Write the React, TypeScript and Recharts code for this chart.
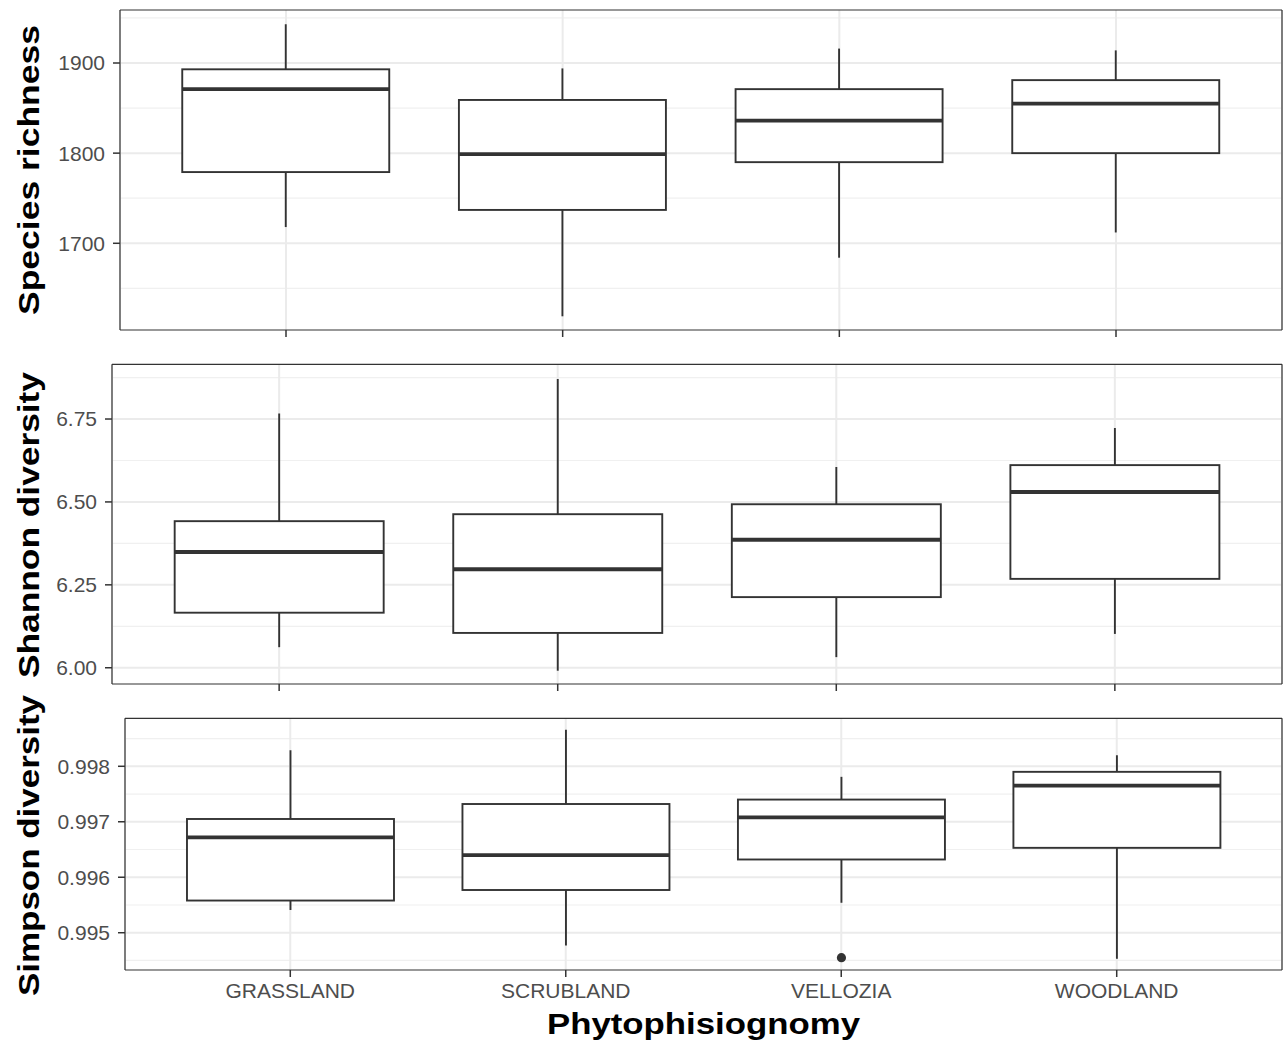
import React from "react";
import { ComposedChart, Bar, XAxis, YAxis, CartesianGrid } from "recharts";

// ---------- data ----------
const categories = ["GRASSLAND", "SCRUBLAND", "VELLOZIA", "WOODLAND"];

// Species richness
const richMin = [1718, 1619, 1684, 1712];
const richQ1 = [1779, 1737, 1790, 1800];
const richMedian = [1871, 1799, 1836, 1855];
const richQ3 = [1893, 1859, 1871, 1881];
const richMax = [1943, 1894, 1916, 1914];
const richTicks = [1700, 1800, 1900];
const richMinorTicks = [1650, 1750, 1850, 1950];
const richDomain: [number, number] = [1603.8, 1958.8];

// Shannon diversity
const shMin = [6.062, 5.991, 6.032, 6.102];
const shQ1 = [6.166, 6.105, 6.213, 6.268];
const shMedian = [6.349, 6.297, 6.386, 6.53];
const shQ3 = [6.442, 6.463, 6.493, 6.611];
const shMax = [6.767, 6.871, 6.605, 6.723];
const shTicks = [6.0, 6.25, 6.5, 6.75];
const shMinorTicks = [6.125, 6.375, 6.625, 6.875];
const shDomain: [number, number] = [5.951, 6.915];

// Simpson diversity
const siMin = [0.99541, 0.99477, 0.99554, 0.99453];
const siQ1 = [0.99558, 0.99577, 0.99632, 0.99653];
const siMedian = [0.99672, 0.9964, 0.99708, 0.99765];
const siQ3 = [0.99705, 0.99732, 0.9974, 0.9979];
const siMax = [0.99829, 0.99866, 0.99781, 0.9982];
const siOutliers: number[][] = [[], [], [0.99455], []];
const siTicks = [0.995, 0.996, 0.997, 0.998];
const siMinorTicks = [0.9945, 0.9955, 0.9965, 0.9975, 0.9985];
const siDomain: [number, number] = [0.994328, 0.998865];

// ---------- helpers ----------
const FONT = '"Liberation Sans", Arial, Helvetica, sans-serif';
const INK = "#333333";
const TICK_TEXT = "#4d4d4d";

type Row = {
  name: string;
  min: number;
  q1: number;
  median: number;
  q3: number;
  max: number;
  outliers: number[];
};

function buildRows(
  mins: number[],
  q1s: number[],
  meds: number[],
  q3s: number[],
  maxs: number[],
  outs?: number[][]
): Row[] {
  return categories.map((name, i) => ({
    name,
    min: mins[i],
    q1: q1s[i],
    median: meds[i],
    q3: q3s[i],
    max: maxs[i],
    outliers: outs ? outs[i] : [],
  }));
}

const richRows = buildRows(richMin, richQ1, richMedian, richQ3, richMax);
const shRows = buildRows(shMin, shQ1, shMedian, shQ3, shMax);
const siRows = buildRows(siMin, siQ1, siMedian, siQ3, siMax, siOutliers);

const BoxShape = (props: any) => {
  const { x, y, width, height, payload } = props;
  if (!payload || ![x, y, width, height].every((v) => Number.isFinite(v))) return null;
  const top = Math.min(y, y + height);
  const h = Math.abs(height);
  const span = payload.max - payload.min;
  const py = (v: number) => top + ((payload.max - v) / span) * h;
  const cx = x + width / 2;
  const yQ3 = py(payload.q3);
  const yQ1 = py(payload.q1);
  const yMed = py(payload.median);
  return (
    <g>
      <line x1={cx} x2={cx} y1={py(payload.max)} y2={yQ3} stroke={INK} strokeWidth={1.9} />
      <line x1={cx} x2={cx} y1={yQ1} y2={py(payload.min)} stroke={INK} strokeWidth={1.9} />
      <rect x={x} y={yQ3} width={width} height={yQ1 - yQ3} fill="#ffffff" stroke={INK} strokeWidth={1.9} />
      <line x1={x} x2={x + width} y1={yMed} y2={yMed} stroke={INK} strokeWidth={3.8} />
      {(payload.outliers || []).map((o: number, i: number) => (
        <circle key={i} cx={cx} cy={py(o)} r={4.6} fill={INK} />
      ))}
    </g>
  );
};

const EmptyTick = () => <g />;

const borderEdges = ({ offset }: any) => [offset.left, offset.left + offset.width];

type PanelProps = {
  rows: Row[];
  top: number;
  height: number;
  marginTop: number;
  plotLeft: number;
  xAxisHeight: number;
  domain: [number, number];
  ticks: number[];
  minorTicks: number[];
  fmt: (v: number) => string;
  showLabels: boolean;
};

function Panel({
  rows,
  top,
  height,
  marginTop,
  plotLeft,
  xAxisHeight,
  domain,
  ticks,
  minorTicks,
  fmt,
  showLabels,
}: PanelProps) {
  const W = 1283 - plotLeft - 1;
  const pad = W / 42;
  return (
    <div style={{ position: "absolute", left: 0, top }}>
      <ComposedChart
        width={1283}
        height={height}
        data={rows}
        margin={{ top: marginTop, right: 1, bottom: 0, left: 0 }}
        barCategoryGap="12.5%"
      >
        <CartesianGrid
          horizontalValues={minorTicks}
          vertical={false}
          stroke="#f0f0f0"
          strokeWidth={1.2}
          fill="none"
        />
        <CartesianGrid horizontalValues={ticks} stroke="#ebebeb" strokeWidth={2} fill="none" />
        <XAxis
          dataKey="name"
          type="category"
          padding={{ left: pad, right: pad }}
          height={xAxisHeight}
          interval={0}
          tickSize={7}
          tickMargin={6}
          tickLine={{ stroke: INK, strokeWidth: 1.5 }}
          axisLine={false}
          tick={
            showLabels
              ? { fill: TICK_TEXT, fontSize: 21, fontFamily: FONT }
              : EmptyTick
          }
        />
        <YAxis
          type="number"
          domain={domain}
          ticks={ticks}
          allowDataOverflow
          width={plotLeft}
          tickSize={7}
          tickMargin={8}
          tickFormatter={fmt}
          tickLine={{ stroke: INK, strokeWidth: 1.5 }}
          axisLine={false}
          tick={{ fill: TICK_TEXT, fontSize: 21, fontFamily: FONT }}
        />
        <Bar
          dataKey={(d: Row) => [d.min, d.max]}
          shape={BoxShape}
          isAnimationActive={false}
        />
        <CartesianGrid
          horizontalValues={domain}
          verticalCoordinatesGenerator={borderEdges}
          stroke={INK}
          strokeWidth={1.2}
          fill="none"
        />
      </ComposedChart>
    </div>
  );
}

export default function App() {
  const titleStyle = {
    fontFamily: FONT,
    fontWeight: 700 as const,
    fontSize: 30,
    fill: "#000000",
  };
  return (
    <div
      style={{
        position: "absolute",
        left: 0,
        top: 0,
        width: 1283,
        height: 1047,
        background: "#ffffff",
        fontFamily: FONT,
      }}
    >
      <Panel
        rows={richRows}
        top={0}
        height={345}
        marginTop={10}
        plotLeft={120}
        xAxisHeight={15}
        domain={richDomain}
        ticks={richTicks}
        minorTicks={richMinorTicks}
        fmt={(v) => String(v)}
        showLabels={false}
      />
      <Panel
        rows={shRows}
        top={350}
        height={350}
        marginTop={14.3}
        plotLeft={112}
        xAxisHeight={16}
        domain={shDomain}
        ticks={shTicks}
        minorTicks={shMinorTicks}
        fmt={(v) => v.toFixed(2)}
        showLabels={false}
      />
      <Panel
        rows={siRows}
        top={700}
        height={347}
        marginTop={18.3}
        plotLeft={125}
        xAxisHeight={77}
        domain={siDomain}
        ticks={siTicks}
        minorTicks={siMinorTicks}
        fmt={(v) => v.toFixed(3)}
        showLabels={true}
      />
      <svg
        width={1283}
        height={1047}
        style={{ position: "absolute", left: 0, top: 0, pointerEvents: "none" }}
      >
        <text
          transform="translate(38.5,170) rotate(-90)"
          textAnchor="middle"
          textLength={290}
          lengthAdjust="spacingAndGlyphs"
          style={titleStyle}
        >
          Species richness
        </text>
        <text
          transform="translate(38.5,525) rotate(-90)"
          textAnchor="middle"
          textLength={306}
          lengthAdjust="spacingAndGlyphs"
          style={titleStyle}
        >
          Shannon diversity
        </text>
        <text
          transform="translate(38.5,845.5) rotate(-90)"
          textAnchor="middle"
          textLength={301}
          lengthAdjust="spacingAndGlyphs"
          style={titleStyle}
        >
          Simpson diversity
        </text>
        <text
          x={703.5}
          y={1034}
          textAnchor="middle"
          textLength={313}
          lengthAdjust="spacingAndGlyphs"
          style={titleStyle}
        >
          Phytophisiognomy
        </text>
      </svg>
    </div>
  );
}
